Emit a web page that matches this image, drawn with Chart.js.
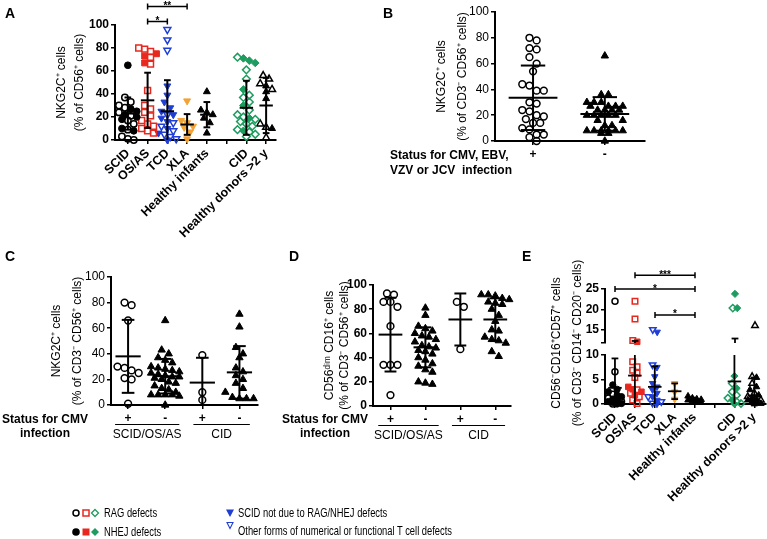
<!DOCTYPE html>
<html>
<head>
<meta charset="utf-8">
<script src="https://cdn.jsdelivr.net/npm/chart.js@4.4.1/dist/chart.umd.min.js"></script>
<style>
body { margin: 0; width: 767px; height: 539px; position: relative; overflow: hidden; background: #fff; font-family: "Liberation Sans", Arial, sans-serif; }
canvas { position: absolute; left: 0; top: 0; }
.t { position: absolute; white-space: pre; color: #000; }
.letter { font-weight: bold; font-size: 14px; line-height: 14px; }
.status { font-weight: bold; font-size: 12px; line-height: 14px; }
.leg { font-size: 13px; line-height: 15px; transform: scaleX(0.72); transform-origin: left center; }
</style>
</head>
<body>
<canvas id="cA" width="767" height="539"></canvas>
<canvas id="cB" width="767" height="539"></canvas>
<canvas id="cC" width="767" height="539"></canvas>
<canvas id="cD" width="767" height="539"></canvas>
<canvas id="cEtop" width="767" height="539"></canvas>
<canvas id="cEbot" width="767" height="539"></canvas>

<div class="t letter" style="left:5px;top:6px">A</div>
<div class="t letter" style="left:383px;top:6px">B</div>
<div class="t letter" style="left:5px;top:249px">C</div>
<div class="t letter" style="left:289px;top:249px">D</div>
<div class="t letter" style="left:522px;top:249px">E</div>

<div class="t status" style="left:390px;top:148px;line-height:15px">Status for CMV, EBV,
VZV or JCV  infection</div>
<div class="t status" style="left:0px;top:412px;width:90px;text-align:center">Status for CMV
infection</div>
<div class="t status" style="left:280px;top:412px;width:90px;text-align:center">Status for CMV
infection</div>

<div class="t" style="left:467px;top:322px;width:200px;height:42px;font-size:12px;line-height:21px;text-align:center;transform:rotate(-90deg)">CD56⁻CD16⁺CD57⁺ cells
(% of CD3⁻ CD14⁻ CD20⁻ cells)</div>

<svg style="position:absolute;left:0;top:500px" width="767" height="39">
  <circle cx="76" cy="13" r="3" fill="none" stroke="#000" stroke-width="1.5"/>
  <rect x="83" y="10" width="6" height="6" fill="none" stroke="#e8281f" stroke-width="1.5"/>
  <polygon points="95,9.5 98.5,13 95,16.5 91.5,13" fill="none" stroke="#1e9c5f" stroke-width="1.3"/>
  <circle cx="76" cy="32" r="3.8" fill="#000"/>
  <rect x="82.5" y="28.5" width="7" height="7" fill="#e8281f"/>
  <polygon points="95,28 99,32 95,36 91,32" fill="#1e9c5f"/>
  <polygon points="226,9.5 234,9.5 230,17" fill="#1f3ed6"/>
  <polygon points="227,22.5 233,22.5 230,28.5" fill="none" stroke="#1f3ed6" stroke-width="1.1"/>
</svg>
<div class="t leg" style="left:104px;top:505px">RAG defects</div>
<div class="t leg" style="left:104px;top:524px">NHEJ defects</div>
<div class="t leg" style="left:238px;top:505px">SCID not due to RAG/NHEJ defects</div>
<div class="t leg" style="left:238px;top:523px">Other forms of numerical or functional T cell defects</div>

<script>
// ---- panel A: NKG2C+ (% of CD56+ cells)
const catsA = ['SCID', 'OS/AS', 'TCD', 'XLA', 'Healthy infants', '', 'CID', 'Healthy donors >2 y'];
const scidOpenA = [37, 33, 30, 28, 24, 21, 17, 14, 9, 3, 1, 0];
const scidFillA = [65, 27, 25, 22, 20, 18, 10, 8];
const osOpenA = [80, 79, 77, 72, 66, 43, 30, 27, 24, 21, 17, 14, 12, 10, 8, 6];
const osFillA = [75, 73, 67];
const tcdOpenA = [96, 87, 78, 22, 15, 12, 8, 5, 3, 1];
const tcdFillA = [47, 39, 33, 28, 25, 22, 19, 16, 10, 6, 0];
const xlaA = [34, 17, 15, 12, 11, 7, 1];
const infantsA = [42, 26, 24, 22, 19, 15, 6];
const cidOpenA = [72, 61, 53, 39, 37, 33, 26, 22, 20, 18, 16, 14, 12, 9, 7, 5, 3];
const cidFillA = [71, 69, 67, 44, 30, 19, 8];
const donorsOpenA = [56, 53, 49, 44, 14, 11, 2];
const donorsFillA = [47, 42, 36, 10];
const meanA = [23, 34.5, 25, 13.5, 22, null, 28, 30];
const sdA = [14, 24, 27, 9, 11, null, 23.5, 24];
const signifA = [[1, 2, 103, '*'], [1, 3, 116, '**']];

// ---- panel B: by CMV/EBV/VZV/JCV status
const catsB = ['+', '-'];
const posB = [80, 78, 72, 71, 65, 60, 54, 44, 43, 39, 39, 30, 29, 24, 23, 20, 19, 17, 14, 14, 10, 9, 5, 5, 3, 0];
const negB = [66, 36, 36, 30, 30, 30, 27, 27, 27, 27, 24, 24, 24, 24, 20, 20, 20, 20, 20, 16, 16, 12, 12, 8, 8, 8, 8, 8, 8, 6, 6, 0];
const meanB = [33.5, 21];
const sdB = [25, 13];

// ---- panel C: NKG2C+ by CMV status
const catsCD = ['+', '-', '+', '-'];
const groupsLabelCD = [['SCID/OS/AS', -0.35, 1.38], ['CID', 1.76, 3.28]];
const scidPosC = [80, 78, 66, 30, 29, 27, 25, 21, 20, 1];
const scidNegC = [66, 43, 40, 37, 35, 33, 30, 29, 28, 27, 26, 25, 24, 23, 22, 22, 21, 20, 18, 17, 15, 13, 12, 10, 8, 8, 8, 8, 7, 0];
const cidPosC = [39, 10, 4];
const cidNegC = [71, 61, 45, 40, 37, 29, 26, 23, 20, 17, 13, 10, 6, 5, 5, 5];
const meanC = [38, 22.5, 17.5, 25.5];
const sdC = [28.5, 13.5, 19.4, 20.5];

// ---- panel D: CD56dim CD16+ by CMV status
const scidPosD = [93, 92, 86, 86, 82, 66, 34, 34, 34, 9];
const scidNegD = [81, 75, 66, 64, 62, 60, 58, 57, 55, 53, 50, 49, 48, 46, 45, 43, 40, 38, 35, 33, 30, 28, 20, 19, 18];
const cidPosD = [86, 82, 47];
const cidNegD = [92, 92, 91, 89, 88, 86, 85, 84, 80, 75, 70, 63, 62, 57, 55, 54, 52, 45, 41];
const meanD = [59, 48.5, 71.5, 71.5];
const sdD = [30.5, 16.5, 21.5, 17.5];

// ---- panel E: CD56-CD16+CD57+ (broken axis)
const scidOpenE = [22, 6.6, 2, 1.2, 0.5, 0];
const scidFillE = [3.9, 3, 2.5, 1.8, 1.5, 1, 0.8, 0.5, 0.3, 0.2, 0.1, 0];
const osOpenE = [22, 17.6, 12.3, 8.6, 7.6, 6.9, 6.3, 5.4, 2.9, 2.2, 1.5, 0.8, 0.1];
const osFillE = [12, 3.5, 3, 2.5, 1.8];
const tcdOpenE = [15, 8, 1.5, 0.5, 0.2];
const tcdFillE = [14.4, 7.5, 5.6, 4.2, 3.5, 2.9, 2.2, 1.5, 0.8, 0];
const xlaE = [4.2, 2.5, 1.0];
const infantsE = [1.6, 1.2, 1.0, 0.9, 0.8, 0.7, 0.5, 0.3];
const cidOpenE = [20.3, 4.2, 2.5, 1.8, 1.2, 0.5, 0.1];
const cidFillE = [23.8, 20.3, 5.7, 3.2, 0.8, 0];
const donorsOpenE = [16, 5.6, 4.2, 2.2, 1.5, 0.8];
const donorsFillE = [5.4, 3.5, 2.9, 1.8, 1.2, 1, 0.8, 0.5, 0.3, 0.1, 0];
const meanE = [3.3, 5.8, 3.5, 2.6, 0.9, null, 4.6, 1.7];
const sdE = [6, 6.4, 4.2, 1.6, 0.4, null, 8.2, 3.7];
const upperTicksE = [11.7, 15, 20, 25];
const signifE = [[1, 4, 28.4, '***'], [0, 4, 25, '*'], [2, 4, 18.6, '*']];

const FAM = '"Liberation Sans", Arial, sans-serif';
const BLK = '#000', RED = '#e8281f', BLUE = '#1f3ed6', ORANGE = '#f4a235', GREEN = '#1e9c5f';
const ST = {
  cirO: { shape: 'circle', c: BLK, open: true, k: 1 },
  cirF: { shape: 'circle', c: BLK, k: 1.05 },
  sqO: { shape: 'rect', c: RED, open: true, k: 1.3 },
  sqF: { shape: 'rect', c: RED, k: 1.3 },
  dnO: { shape: 'triangle', rot: 180, c: BLUE, open: true, k: 1.25 },
  dnF: { shape: 'triangle', rot: 180, c: BLUE, k: 1.25 },
  orF: { shape: 'triangle', rot: 180, c: ORANGE, k: 1.25 },
  upF: { shape: 'triangle', c: BLK, k: 1.25 },
  upO: { shape: 'triangle', c: BLK, open: true, k: 1.25 },
  dmO: { shape: 'rectRot', c: GREEN, open: true, k: 1.2 },
  dmF: { shape: 'rectRot', c: GREEN, k: 1.2 }
};

Chart.defaults.font.family = FAM;
Chart.defaults.color = '#000';

function F(size, bold) {
  return { size: size, weight: bold ? 'bold' : 'normal', family: FAM };
}

// spread points of a column sideways, row by row, so they do not overlap
function swarm(groups, o, keep) {
  var byKey = {};
  groups.forEach(g => {
    var pts = [];
    g.sets.forEach(s => s[0].forEach(v => pts.push({ v: v, key: s[1] })));
    pts.sort((a, b) => b.v - a.v);
    var rows = [];
    pts.forEach(p => {
      var r = rows[rows.length - 1];
      if (r && r[0].v - p.v < o.bin && r.length < o.maxRow) r.push(p);
      else rows.push([p]);
    });
    rows.forEach(r => r.forEach((p, i) => {
      if (keep && !keep(p.v)) return;
      (byKey[p.key] = byKey[p.key] || []).push({ x: g.x + (i - (r.length - 1) / 2) * o.step, y: p.v });
    }));
  });
  return Object.keys(byKey).map(k => {
    var s = ST[k];
    return {
      data: byKey[k],
      showLine: false,
      clip: false,
      pointStyle: s.shape,
      pointRotation: s.rot || 0,
      pointRadius: o.r * s.k,
      pointBorderColor: s.c,
      pointBackgroundColor: s.open ? 'rgba(255,255,255,0)' : s.c,
      pointBorderWidth: s.open ? 1.5 : 1
    };
  });
}

function barsPlugin(means, sds, lw) {
  return {
    id: 'sdbars',
    afterDatasetsDraw(chart) {
      var ctx = chart.ctx, x = chart.scales.x, y = chart.scales.y;
      var seg = (x1, y1, x2, y2) => { ctx.beginPath(); ctx.moveTo(x1, y1); ctx.lineTo(x2, y2); ctx.stroke(); };
      var inside = v => v >= y.min - 1e-9 && v <= y.max + 1e-9;
      ctx.save();
      ctx.strokeStyle = '#000';
      ctx.lineWidth = lw;
      means.forEach((m, i) => {
        if (m == null) return;
        var lo = m - sds[i], hi = m + sds[i];
        var px = x.getPixelForValue(i);
        var w = x.getPixelForValue(i + 0.34) - px;
        var c = x.getPixelForValue(i + 0.17) - px;
        if (hi > y.min && lo < y.max)
          seg(px, y.getPixelForValue(Math.min(hi, y.max)), px, y.getPixelForValue(Math.max(lo, y.min)));
        if (inside(m)) seg(px - w, y.getPixelForValue(m), px + w, y.getPixelForValue(m));
        [lo, hi].forEach(v => { if (inside(v)) seg(px - c, y.getPixelForValue(v), px + c, y.getPixelForValue(v)); });
      });
      ctx.restore();
    }
  };
}

function bracketPlugin(list) {
  return {
    id: 'brackets',
    afterDraw(chart) {
      var ctx = chart.ctx, x = chart.scales.x, y = chart.scales.y;
      ctx.save();
      ctx.strokeStyle = '#000';
      ctx.fillStyle = '#000';
      ctx.lineWidth = 1.5;
      ctx.font = 'bold 10px ' + FAM;
      ctx.textAlign = 'center';
      ctx.textBaseline = 'alphabetic';
      list.forEach(b => {
        var x1 = x.getPixelForValue(b[0]), x2 = x.getPixelForValue(b[1]), yy = y.getPixelForValue(b[2]);
        ctx.beginPath();
        ctx.moveTo(x1, yy); ctx.lineTo(x2, yy);
        ctx.moveTo(x1, yy - 3); ctx.lineTo(x1, yy + 3);
        ctx.moveTo(x2, yy - 3); ctx.lineTo(x2, yy + 3);
        ctx.stroke();
        ctx.fillText(b[3], (x1 + x2) / 2, yy + 2.5);
      });
      ctx.restore();
    }
  };
}

function groupPlugin(list) {
  return {
    id: 'grouplines',
    afterDraw(chart) {
      var ctx = chart.ctx, a = chart.chartArea, x = chart.scales.x;
      ctx.save();
      ctx.strokeStyle = '#000';
      ctx.fillStyle = '#000';
      ctx.lineWidth = 1.2;
      ctx.font = '12px ' + FAM;
      ctx.textAlign = 'center';
      ctx.textBaseline = 'middle';
      list.forEach(g => {
        var x1 = x.getPixelForValue(g[1]), x2 = x.getPixelForValue(g[2]);
        ctx.beginPath();
        ctx.moveTo(x1, a.bottom + 19.5); ctx.lineTo(x2, a.bottom + 19.5);
        ctx.stroke();
        ctx.fillText(g[0], (x1 + x2) / 2, a.bottom + 29.5);
      });
      ctx.restore();
    }
  };
}

const gridOpt = { display: true, drawOnChartArea: false, drawTicks: true, tickLength: 4, color: '#000', lineWidth: 1.5 };
const borderOpt = { display: true, color: '#000', width: 2 };

// area = [left, top, right, bottom] of the plot area in page pixels
function makeChart(id, datasets, area, xo, yo, plugins) {
  var l = area[0], t = area[1], r = area[2], b = area[3];
  var xh = xo.hidden ? 0 : 539 - b;
  var xs = {
    type: 'linear', min: xo.min, max: xo.max, display: !xo.hidden,
    afterBuildTicks: s => { s.ticks = xo.cats.map((c, i) => ({ value: i })); },
    afterFit: s => { s.height = xh; },
    ticks: { autoSkip: false, minRotation: xo.rot, maxRotation: xo.rot, padding: 2, font: xo.font, color: '#000',
      callback: v => xo.cats[v] },
    grid: gridOpt, border: borderOpt
  };
  var ys = {
    type: 'linear', min: yo.min, max: yo.max,
    afterFit: s => { s.width = l; },
    ticks: { stepSize: yo.step, font: yo.font, color: '#000', padding: 2 },
    grid: gridOpt, border: borderOpt,
    title: yo.title ? {
      display: true, text: yo.title, color: '#000',
      font: { size: 12, family: FAM, lineHeight: yo.lh / 12 },
      padding: { top: yo.tx - yo.lh / 2, bottom: 0 }
    } : { display: false }
  };
  if (yo.tickVals) {
    ys.afterBuildTicks = s => { s.ticks = yo.tickVals.map(v => ({ value: v })); };
    ys.ticks.callback = v => (v % 5 === 0 ? v : '');
  }
  return new Chart(document.getElementById(id), {
    type: 'scatter',
    data: { datasets: datasets },
    options: {
      responsive: false,
      animation: false,
      events: [],
      layout: { autoPadding: false, padding: { left: 0, top: t, right: 767 - r, bottom: 539 - b - xh } },
      scales: { x: xs, y: ys },
      plugins: { legend: { display: false }, tooltip: { enabled: false } }
    },
    plugins: plugins
  });
}

// ---- A
const groupsA = [
  { x: 0, sets: [[scidOpenA, 'cirO'], [scidFillA, 'cirF']] },
  { x: 1, sets: [[osOpenA, 'sqO'], [osFillA, 'sqF']] },
  { x: 2, sets: [[tcdOpenA, 'dnO'], [tcdFillA, 'dnF']] },
  { x: 3, sets: [[xlaA, 'orF']] },
  { x: 4, sets: [[infantsA, 'upF']] },
  { x: 6, sets: [[cidOpenA, 'dmO'], [cidFillA, 'dmF']] },
  { x: 7, sets: [[donorsOpenA, 'upO'], [donorsFillA, 'upF']] }
];
makeChart('cA', swarm(groupsA, { bin: 6, step: 0.3, maxRow: 4, r: 3.2 }), [115, 25, 276, 140],
  { cats: catsA, min: -0.65, max: 7.5, rot: 45, font: F(12.5, true) },
  { min: 0, max: 100, step: 20, font: F(12, true), title: ['NKG2C⁺ cells', '(% of CD56⁺ cells)'], tx: 62, lh: 18 },
  [barsPlugin(meanA, sdA, 2), bracketPlugin(signifA)]);

// ---- B
const groupsB = [
  { x: 0, sets: [[posB, 'cirO']] },
  { x: 1, sets: [[negB, 'upF']] }
];
makeChart('cB', swarm(groupsB, { bin: 5.4, step: 0.1, maxRow: 6, r: 3.4 }), [495, 12, 645, 141],
  { cats: catsB, min: -0.53, max: 1.56, rot: 0, font: F(12, true) },
  { min: 0, max: 100, step: 20, font: F(12), title: ['NKG2C⁺ cells', '(% of CD3⁻ CD56⁺ cells)'], tx: 442, lh: 21 },
  [barsPlugin(meanB, sdB, 2)]);

// ---- C
const groupsC = [
  { x: 0, sets: [[scidPosC, 'cirO']] },
  { x: 1, sets: [[scidNegC, 'upF']] },
  { x: 2, sets: [[cidPosC, 'cirO']] },
  { x: 3, sets: [[cidNegC, 'upF']] }
];
makeChart('cC', swarm(groupsC, { bin: 5.4, step: 0.19, maxRow: 5, r: 3.4 }), [111, 277, 258, 405],
  { cats: catsCD, min: -0.46, max: 3.5, rot: 0, font: F(12, true) },
  { min: 0, max: 100, step: 20, font: F(12), title: ['NKG2C⁺ cells', '(% of CD3⁻ CD56⁺ cells)'], tx: 57, lh: 21 },
  [barsPlugin(meanC, sdC, 2), groupPlugin(groupsLabelCD)]);

// ---- D
const groupsD = [
  { x: 0, sets: [[scidPosD, 'cirO']] },
  { x: 1, sets: [[scidNegD, 'upF']] },
  { x: 2, sets: [[cidPosD, 'cirO']] },
  { x: 3, sets: [[cidNegD, 'upF']] }
];
makeChart('cD', swarm(groupsD, { bin: 5.8, step: 0.2, maxRow: 5, r: 3.4 }), [373, 285, 511, 406],
  { cats: catsCD, min: -0.5, max: 3.45, rot: 0, font: F(12, true) },
  { min: 0, max: 100, step: 20, font: F(12, true), title: ['CD56ᵈⁱᵐ CD16⁺ cells', '(% of CD3⁻ CD56⁺ cells)'], tx: 330, lh: 15 },
  [barsPlugin(meanD, sdD, 2), groupPlugin(groupsLabelCD)]);

// ---- E (two charts: upper and lower part of the broken axis)
const groupsE = [
  { x: 0, sets: [[scidOpenE, 'cirO'], [scidFillE, 'cirF']] },
  { x: 1, sets: [[osOpenE, 'sqO'], [osFillE, 'sqF']] },
  { x: 2, sets: [[tcdOpenE, 'dnO'], [tcdFillE, 'dnF']] },
  { x: 3, sets: [[xlaE, 'orF']] },
  { x: 4, sets: [[infantsE, 'upF']] },
  { x: 6, sets: [[cidOpenE, 'dmO'], [cidFillE, 'dmF']] },
  { x: 7, sets: [[donorsOpenE, 'upO'], [donorsFillE, 'upF']] }
];
const swE = { bin: 1.3, step: 0.22, maxRow: 4, r: 3 };
makeChart('cEtop', swarm(groupsE, swE, v => v > 10), [605, 289, 766, 343],
  { cats: catsA, min: -0.5, max: 7.55, rot: 45, font: F(12.5, true), hidden: true },
  { min: upperTicksE[0], max: 25, font: F(12, true), tickVals: upperTicksE },
  [barsPlugin(meanE, sdE, 1.8), bracketPlugin(signifE)]);
makeChart('cEbot', swarm(groupsE, swE, v => v <= 10), [605, 355, 766, 404],
  { cats: catsA, min: -0.5, max: 7.55, rot: 45, font: F(12.5, true) },
  { min: 0, max: 10, step: 5, font: F(12, true) },
  [barsPlugin(meanE, sdE, 1.8)]);
</script>
</body>
</html>
